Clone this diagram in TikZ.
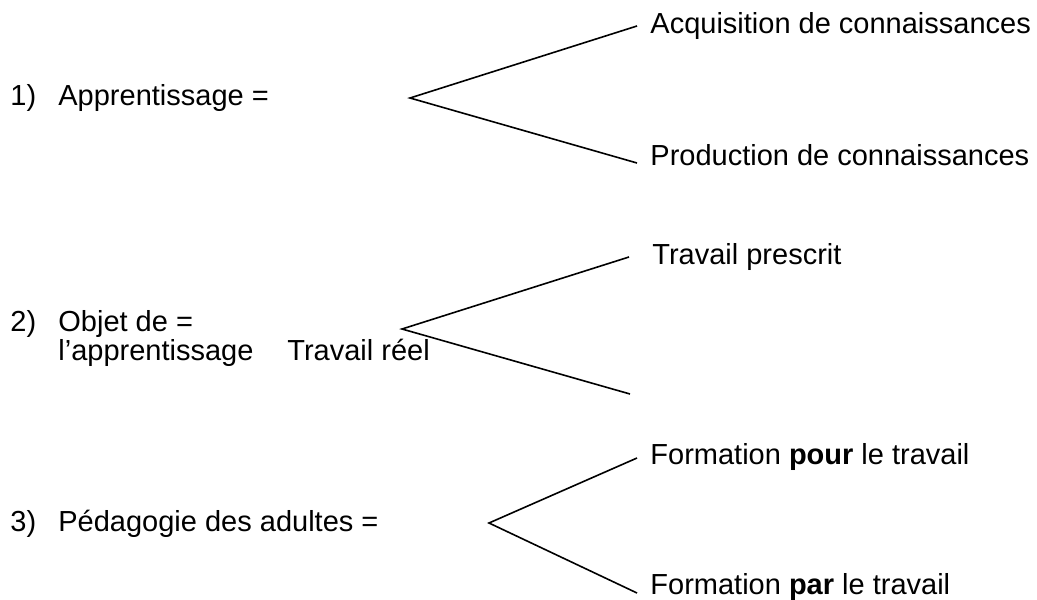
\documentclass[tikz,border=0pt]{standalone}
\usepackage{fontspec}
\setmainfont{Liberation Sans}
\tikzset{
  txt/.style={anchor=base west,inner sep=0pt},
  branch/.style={line width=0.8pt}
}

\begin{document}
\begin{tikzpicture}[x=0.5pt,y=-0.5pt,font=\fontsize{14.5}{17}\selectfont]
\useasboundingbox (0,0) rectangle (1037,599);
% 1) apprentissage
\node[txt] (n1) at (10,105) {1)};
\node[txt] (appr) at (58,105) {Apprentissage =};
\node[txt] (acq) at (650,34) {Acquisition de connaissances};
\node[txt] (prod) at (650,165) {Production de connaissances};
\coordinate (fork1) at (410,98);
\coordinate (acqend) at (637,26);
\coordinate (prodend) at (637,163);
\draw[branch] (acqend) -- (fork1) -- (prodend);
% 2) objet de l'apprentissage
\node[txt] (n2) at (10,331) {2)};
\node[txt] (objet) at (58,331) {Objet de =};
\node[txt] (objet2) at (58,360) {l’apprentissage};
\node[txt] (reel) at (287,360) {Travail réel};
\node[txt] (presc) at (652,264) {Travail prescrit};
\coordinate (fork2) at (402,329);
\coordinate (prescend) at (629,257);
\coordinate (reelend) at (630,394);
\draw[branch] (prescend) -- (fork2) -- (reelend);
% 3) pedagogie des adultes
\node[txt] (n3) at (10,531) {3)};
\node[txt] (peda) at (58,531) {Pédagogie des adultes =};
\node[txt] (pour) at (650,464) {Formation \textbf{pour} le travail};
\node[txt] (par) at (650,594) {Formation \textbf{par} le travail};
\coordinate (fork3) at (489,523);
\coordinate (pourend) at (637,458);
\coordinate (parend) at (637,593);
\draw[branch] (pourend) -- (fork3) -- (parend);
\end{tikzpicture}
\end{document}
